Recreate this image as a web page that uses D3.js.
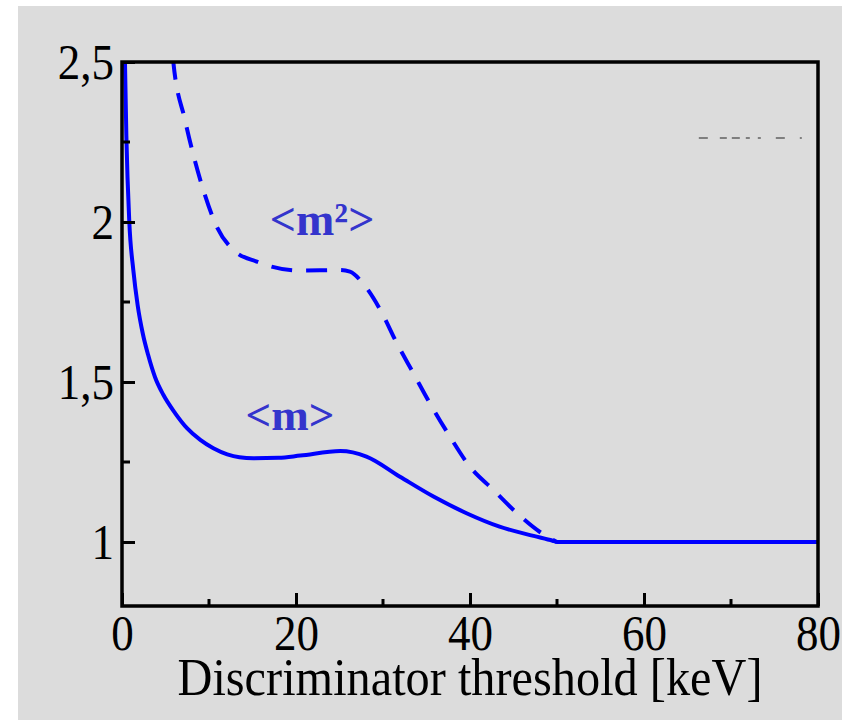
<!DOCTYPE html>
<html>
<head>
<meta charset="utf-8">
<script src="https://cdn.jsdelivr.net/npm/d3@7"></script>
<style>
  body { margin: 0; background: #ffffff; }
  svg { display: block; }
</style>
</head>
<body>
<svg id="chart" width="852" height="720"></svg>
<script>
// Mean multiplicity <m> versus discriminator threshold (keV)
const meanThreshold = [0.15, 0.34, 0.5, 0.84, 1.3, 1.8, 2.4, 3.0, 3.8, 4.75, 6.1, 7.5, 9.0, 10.5, 12.1, 13.5, 15.1, 18.0, 20.5, 25.1, 28.1, 31.95, 35.8, 39.6, 43.4, 47.3, 49.5, 50, 60, 70, 80];
const meanValue     = [2.9, 2.5, 2.27, 2.0, 1.85, 1.74, 1.65, 1.585, 1.515, 1.46, 1.403, 1.355, 1.319, 1.293, 1.274, 1.265, 1.262, 1.263, 1.27, 1.284, 1.267, 1.204, 1.142, 1.09, 1.048, 1.019, 1.004, 1.0, 1.0, 1.0, 1.0];

// Second moment <m²> versus discriminator threshold (keV)
const squareThreshold = [5.5, 5.9, 7.24, 9.35, 10.9, 12.8, 15.5, 20.5, 25.0, 26.2, 27.7, 29.7, 31.6, 33.5, 35.4, 37.7, 40.0, 42.7, 45.4, 48.0, 50.0];
const squareValue     = [2.62, 2.5, 2.319, 2.1, 1.985, 1.9125, 1.876, 1.848, 1.85, 1.845, 1.808, 1.725, 1.621, 1.527, 1.433, 1.329, 1.235, 1.1625, 1.09, 1.032, 1.0];

const xMajorTicks = [0, 20, 40, 60, 80];
const xMinorTicks = [10, 30, 50, 70];
const yMajorTicks = [1, 1.5, 2, 2.5];
const yMinorTicks = [1.25, 1.75, 2.25];
const xTitle = "Discriminator threshold [keV]";

// faint leftover stroke in the upper right of the frame
const residueThreshold = [66.3, 78.3];
const residueValue = [2.2625, 2.2625];

const svg = d3.select("#chart");
const W = 852, H = 720;
const frame = { left: 122, right: 818, top: 62, bottom: 606 };

svg.append("rect").attr("width", W).attr("height", H).attr("fill", "#ffffff");
svg.append("rect").attr("x", 18).attr("y", 6).attr("width", 824).attr("height", 714).attr("fill", "#dcdcdc");

const x = d3.scaleLinear().domain([0, 80]).range([frame.left, frame.right]);
const y = d3.scaleLinear().domain([0.8, 2.5]).range([frame.bottom, frame.top]);

svg.append("clipPath").attr("id", "plot-clip")
  .append("rect")
  .attr("x", frame.left).attr("y", frame.top)
  .attr("width", frame.right - frame.left).attr("height", frame.bottom - frame.top);

const line = d3.line().x(d => x(d[0])).y(d => y(d[1])).curve(d3.curveMonotoneX);

const plot = svg.append("g").attr("clip-path", "url(#plot-clip)");

plot.append("path")
  .datum(squareThreshold.map((t, i) => [t, squareValue[i]]))
  .attr("d", line)
  .attr("fill", "none")
  .attr("stroke", "#0000ff")
  .attr("stroke-width", 4)
  .attr("stroke-dasharray", "21,14");

plot.append("path")
  .datum(meanThreshold.map((t, i) => [t, meanValue[i]]))
  .attr("d", line)
  .attr("fill", "none")
  .attr("stroke", "#0000ff")
  .attr("stroke-width", 4);

plot.append("path")
  .datum(residueThreshold.map((t, i) => [t, residueValue[i]]))
  .attr("d", d3.line().x(d => x(d[0])).y(d => y(d[1])))
  .attr("fill", "none")
  .attr("stroke", "#222")
  .attr("stroke-width", 1.2)
  .attr("stroke-dasharray", "9,12,7,5,8,6,4,8,3,15,9,15,2");

// curve labels
const labelFont = "'Liberation Serif', 'DejaVu Serif', serif";
svg.append("text")
  .attr("x", x(23.0)).attr("y", y(1.959))
  .attr("text-anchor", "middle")
  .attr("font-family", labelFont).attr("font-weight", "bold")
  .attr("font-size", 46).attr("fill", "#3434cc")
  .text("<m²>");

svg.append("text")
  .attr("x", x(19.3)).attr("y", y(1.35))
  .attr("text-anchor", "middle")
  .attr("font-family", labelFont).attr("font-weight", "bold")
  .attr("font-size", 45).attr("fill", "#3434cc")
  .text("<m>");

// axes: ticks point into the frame
const tickFont = "'Liberation Serif', 'Times New Roman', serif";
const commaFmt = d => String(d).replace(".", ",");

const xAxis = svg.append("g").attr("transform", `translate(0,${frame.bottom})`)
  .call(d3.axisBottom(x).tickValues(xMajorTicks).tickSizeInner(-13).tickSizeOuter(0).tickPadding(20).tickFormat(commaFmt));
xAxis.append("g").selectAll("line").data(xMinorTicks).join("line")
  .attr("x1", d => x(d)).attr("x2", d => x(d)).attr("y1", 0).attr("y2", -7);

const yAxis = svg.append("g").attr("transform", `translate(${frame.left},0)`)
  .call(d3.axisLeft(y).tickValues(yMajorTicks).tickSizeInner(-13).tickSizeOuter(0).tickPadding(8).tickFormat(commaFmt));
yAxis.append("g").selectAll("line").data(yMinorTicks).join("line")
  .attr("x1", 0).attr("x2", 8).attr("y1", d => y(d)).attr("y2", d => y(d));

[xAxis, yAxis].forEach(g => {
  g.select(".domain").remove();
  g.selectAll("line").attr("stroke", "#000").attr("stroke-width", 3);
  g.selectAll("text")
    .attr("font-family", tickFont)
    .attr("font-size", 50)
    .attr("fill", "#000");
});
xAxis.selectAll(".tick text").attr("dy", null).attr("y", 44).attr("transform", "scale(0.9,1)");
yAxis.selectAll(".tick text").attr("dy", "0.33em").attr("x", -8 / 0.9).attr("transform", "scale(0.9,1)");

// frame
svg.append("rect")
  .attr("x", frame.left).attr("y", frame.top)
  .attr("width", frame.right - frame.left).attr("height", frame.bottom - frame.top)
  .attr("fill", "none").attr("stroke", "#000").attr("stroke-width", 3.5);

// axis title
svg.append("text")
  .attr("x", (frame.left + frame.right) / 2).attr("y", 695)
  .attr("text-anchor", "middle")
  .attr("font-family", tickFont).attr("font-size", 52).attr("fill", "#000")
  .attr("textLength", 585).attr("lengthAdjust", "spacingAndGlyphs")
  .text(xTitle);
</script>
</body>
</html>
